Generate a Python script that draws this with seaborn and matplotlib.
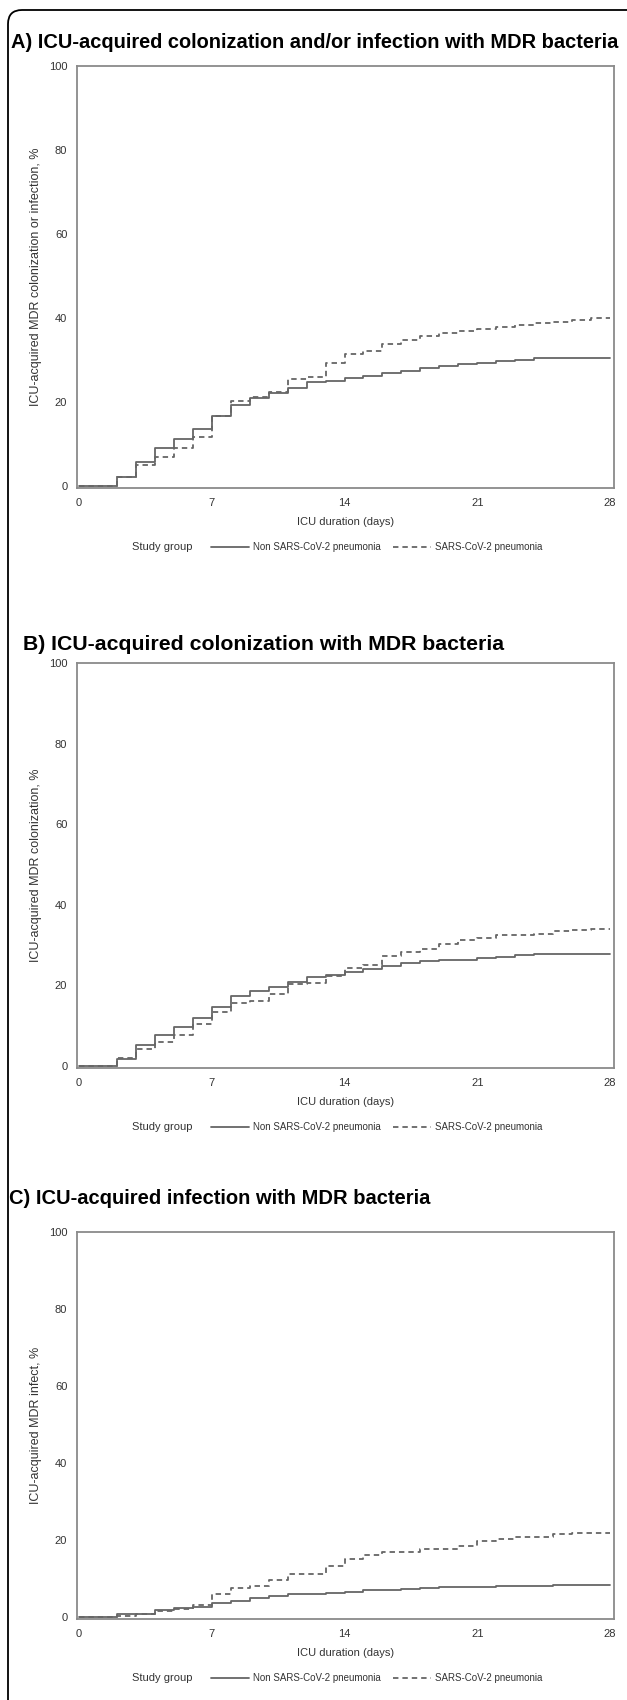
import matplotlib
matplotlib.use("Agg")
import matplotlib.pyplot as plt
import matplotlib.patches as mpatches
import matplotlib.transforms as mtransforms
from matplotlib.lines import Line2D
import seaborn as sns

# ---- data (step starts at each day; last value repeated at day 28) ----
days = list(range(0, 29))

a_non_sars = [0, 0, 2.2, 5.8, 9.1, 11.3, 13.6, 16.7, 19.2, 21.0, 22.2, 23.4, 24.7, 25.1,
              25.8, 26.3, 26.9, 27.5, 28.1, 28.6, 29.0, 29.3, 29.7, 30.1, 30.5, 30.5,
              30.5, 30.5, 30.5]
a_sars = [0, 0, 2.1, 5.0, 6.8, 9.1, 11.7, 16.7, 20.2, 21.3, 22.5, 25.5, 26.0, 29.2,
          31.5, 32.2, 33.8, 34.7, 35.6, 36.4, 37.0, 37.5, 37.9, 38.3, 38.7, 39.1,
          39.5, 40.0, 40.0]

b_non_sars = [0, 0, 1.8, 5.1, 7.8, 9.7, 12.0, 14.6, 17.3, 18.5, 19.6, 20.9, 22.1, 22.6,
              23.4, 24.1, 24.9, 25.5, 26.1, 26.4, 26.4, 26.8, 27.1, 27.6, 27.9, 27.9,
              27.9, 27.9, 27.9]
b_sars = [0, 0, 2.1, 4.2, 5.9, 7.8, 10.3, 13.5, 15.7, 16.2, 17.8, 20.3, 20.6, 22.3,
          24.4, 25.1, 27.3, 28.3, 29.1, 30.2, 31.2, 31.7, 32.6, 32.6, 32.7, 33.4,
          33.8, 34.0, 34.0]

c_non_sars = [0, 0, 0.65, 0.9, 1.8, 2.3, 2.7, 3.7, 4.2, 4.9, 5.5, 5.9, 6.1, 6.3,
              6.5, 6.9, 7.0, 7.2, 7.5, 7.7, 7.7, 7.8, 8.0, 8.1, 8.1, 8.2, 8.3, 8.4, 8.4]
c_sars = [0, 0, 0.3, 0.8, 1.5, 2.1, 3.2, 6.1, 7.6, 8.1, 9.5, 11.1, 11.1, 13.3,
          15.0, 16.0, 16.8, 16.8, 17.7, 17.7, 18.5, 19.8, 20.2, 20.7, 20.7, 21.6,
          21.7, 21.9, 21.9]

titles = ["A) ICU-acquired colonization and/or infection with MDR bacteria",
          "B) ICU-acquired colonization with MDR bacteria",
          "C) ICU-acquired infection with MDR bacteria"]
ylabels = ["ICU-acquired MDR colonization or infection, %",
           "ICU-acquired MDR colonization, %",
           "ICU-acquired MDR infect, %"]
group_labels = ["Non SARS-CoV-2 pneumonia", "SARS-CoV-2 pneumonia"]
xticks = [0, 7, 14, 21, 28]
yticks = [0, 20, 40, 60, 80, 100]

series = [(a_non_sars, a_sars), (b_non_sars, b_sars), (c_non_sars, c_sars)]

# ---- layout in pixels (figure is 627 x 1700) ----
W, H = 627, 1700
ax_left, ax_right = 77, 614
# (row of y=100, row of y=0, title row, title x, title size)
panels = [(66, 486, 43, 11, 14.4), (663, 1066, 644, 23, 15.3), (1232, 1617, 1199, 9, 14.5)]

sns.set_style("white")
plt.rcParams["font.family"] = ["Liberation Sans", "DejaVu Sans"]

line_col = "#666666"
frame_col = "#8a8a8a"
text_col = "#333333"

fig = plt.figure(figsize=(W / 100, H / 100), dpi=100)

for i, (top, zero, ty, tx, tsize) in enumerate(panels):
    ppu = (zero - top) / 100.0
    bottom_px = zero + 0.55 * ppu
    ax = fig.add_axes([ax_left / W, 1 - bottom_px / H,
                       (ax_right - ax_left) / W, (bottom_px - top) / H])
    non, sars = series[i]
    sns.lineplot(x=days, y=non, drawstyle="steps-post", color=line_col,
                 linewidth=1.3, ax=ax)
    sns.lineplot(x=days, y=sars, drawstyle="steps-post", color=line_col,
                 linewidth=1.3, ax=ax)
    ax.lines[1].set_dashes([3, 2.2])

    ax.set_xlim(-0.105, 28.21)
    ax.set_ylim(-0.55, 100)
    ax.set_xticks(xticks)
    ax.set_yticks(yticks)
    for sp in ax.spines.values():
        sp.set_visible(True)
        sp.set_color(frame_col)
        sp.set_linewidth(1.3)
    ax.tick_params(direction="out", length=5, width=1, color=frame_col,
                   labelsize=8, labelcolor=text_col, pad=2)
    ax.set_xlabel("ICU duration (days)", fontsize=8, color=text_col)
    ax.set_ylabel(ylabels[i], fontsize=9, color=text_col)
    ax.yaxis.set_label_coords((42 - ax_left) / (ax_right - ax_left), 0.5)
    ax.xaxis.label.set_verticalalignment("center")
    ax.xaxis.set_label_coords(0.5, 1 - (zero + 36 - top) / (bottom_px - top))

    fig.text(tx / W, 1 - ty / H, titles[i], fontsize=tsize, fontweight="bold",
             va="center", ha="left", color="black")

    ly = 1 - (zero + 61) / H
    fig.text(132 / W, ly, "Study group", fontsize=8, color=text_col,
             va="center", ha="left")
    handles = [Line2D([], [], color=line_col, lw=1.3),
               Line2D([], [], color=line_col, lw=1.3, dashes=[3, 2.2])]
    leg = ax.legend(handles, group_labels, ncol=2, frameon=False,
                    loc="center left", bbox_to_anchor=(211 / W, ly),
                    bbox_transform=fig.transFigure, fontsize=7,
                    handlelength=3.9, handletextpad=0.4, columnspacing=1.3,
                    borderpad=0, borderaxespad=0)
    for t in leg.get_texts():
        t.set_color(text_col)

# rounded outer border
border = mpatches.FancyBboxPatch((8, -30), 660, H - 10 + 30,
                                 boxstyle="round,pad=0,rounding_size=14",
                                 transform=mtransforms.IdentityTransform(),
                                 facecolor="none", edgecolor="black", linewidth=1.3)
fig.add_artist(border)

fig.savefig("out.png", dpi=100)
